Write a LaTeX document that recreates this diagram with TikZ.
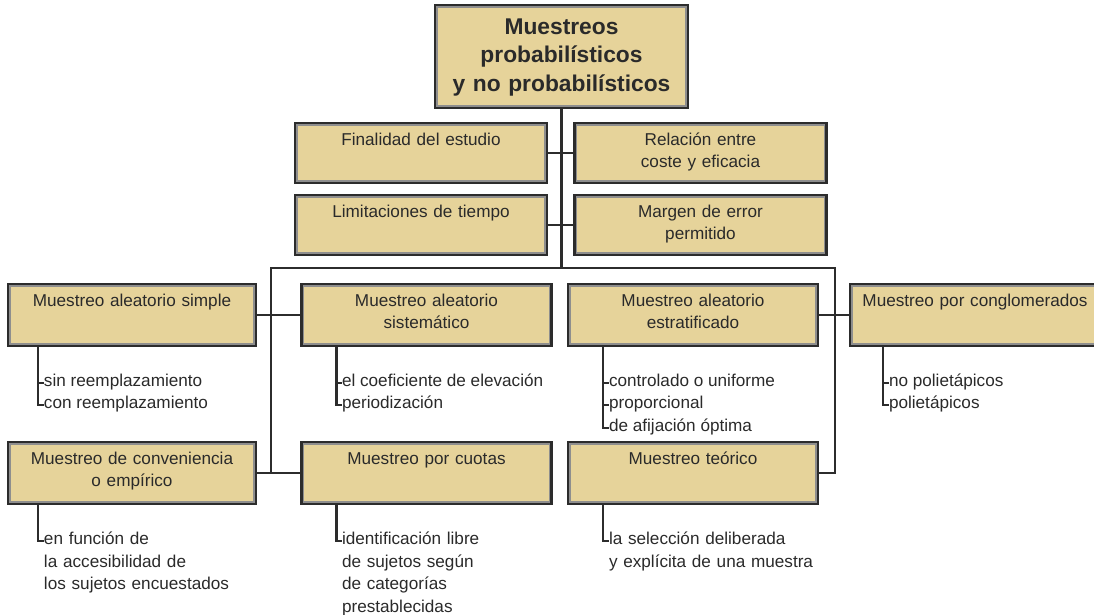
\documentclass[tikz,border=0pt]{standalone}
\usepackage{fontspec}
\setmainfont{Liberation Sans}

\definecolor{boxfill}{HTML}{E6D39A}
\definecolor{boxedge}{HTML}{2C2C2C}
\definecolor{boxbevel}{HTML}{8E8E8E}
\definecolor{inkgray}{HTML}{2A2A2A}

\begin{document}
\begin{tikzpicture}[
    x=0.025cm, y=-0.025cm,
    font=\fontsize{12.2}{16}\selectfont,
    text=inkgray,
    basebox/.style={draw=boxedge, fill=boxfill, line width=1.6pt, outer sep=0pt, anchor=north, align=center, inner xsep=1mm,
        path picture={\draw[boxbevel, line width=4.2pt] (path picture bounding box.south west) rectangle (path picture bounding box.north east);}},
    rootbox/.style={basebox, font=\fontsize{16.2}{20.5}\selectfont\bfseries, text width=6.125cm, text height=0.41cm, text depth=1.535cm, inner ysep=0.315cm},
    factorbox/.style={basebox, text width=6.1cm, text height=0.32cm, text depth=0.72cm, inner ysep=0.23cm},
    typebox/.style={basebox, text width=6.05cm, text height=0.32cm, text depth=0.77cm, inner ysep=0.23cm},
    item/.style={anchor=mid west, inner sep=0pt, outer sep=0pt},
    note/.style={item, text width=6cm, align=left},
    link/.style={draw=boxedge, line width=1.7pt}
]
    \useasboundingbox (0,0) rectangle (1094,615);

    % Nodo raiz y factores
    \node[rootbox] (raiz) at (561.5,5) {Muestreos\\probabilísticos\\y no probabilísticos};
    \node[factorbox] (finalidad) at (421,123) {Finalidad del estudio};
    \node[factorbox] (relacion) at (700.5,123) {Relación entre\\coste y eficacia};
    \node[factorbox] (limites) at (421,195) {Limitaciones de tiempo};
    \node[factorbox] (margen) at (700.5,195) {Margen de error\\permitido};

    % Tipos de muestreo
    \node[typebox, text width=6cm] (simple) at (132,284) {Muestreo aleatorio simple};
    \node[typebox] (sistem) at (426.5,284) {Muestreo aleatorio\\sistemático};
    \node[typebox] (estrat) at (693,284) {Muestreo aleatorio\\estratificado};
    \node[typebox] (conglo) at (975,284) {Muestreo por conglomerados};
    \node[typebox, text width=6cm] (conv) at (132,442) {Muestreo de conveniencia\\o empírico};
    \node[typebox] (cuotas) at (426.5,442) {Muestreo por cuotas};
    \node[typebox] (teorico) at (693,442) {Muestreo teórico};

    % Tronco
    \coordinate (hubL) at (271,268);
    \coordinate (hubR) at (835,268);
    \draw[link] (raiz.south) -- (raiz.south |- hubL);
    \draw[link] (finalidad.east) -- (relacion.west);
    \draw[link] (limites.east) -- (margen.west);
    \draw[link] (hubL |- conv.east) -- (hubL) -- (hubR) -- (hubR |- teorico.east) -- (teorico.east);
    \draw[link] (simple.east) -- (sistem.west);
    \draw[link] (conv.east) -- (cuotas.west);
    \draw[link] (estrat.east) -- (conglo.west);

    % Variantes
    \path (simple.south west) ++(30,0) coordinate (simpleL);
    \node[item] (sinr) at (44,383) {sin reemplazamiento};
    \node[item] (conr) at (44,405) {con reemplazamiento};
    \draw[link] (simpleL) |- (sinr.mid west);
    \draw[link] (simpleL) |- (conr.mid west);

    \path (sistem.south west) ++(35,0) coordinate (sistemL);
    \node[item] (coef) at (342,383) {el coeficiente de elevación};
    \node[item] (period) at (342,405) {periodización};
    \draw[link] (sistemL) |- (coef.mid west);
    \draw[link] (sistemL) |- (period.mid west);

    \path (estrat.south west) ++(35,0) coordinate (estratL);
    \node[item] (unif) at (609,383) {controlado o uniforme};
    \node[item] (prop) at (609,405) {proporcional};
    \node[item] (optima) at (609,428) {de afijación óptima};
    \draw[link] (estratL) |- (unif.mid west);
    \draw[link] (estratL) |- (prop.mid west);
    \draw[link] (estratL) |- (optima.mid west);

    \path (conglo.south west) ++(33,0) coordinate (congloL);
    \node[item] (nopoli) at (889,383) {no polietápicos};
    \node[item] (poli) at (889,405) {polietápicos};
    \draw[link] (congloL) |- (nopoli.mid west);
    \draw[link] (congloL) |- (poli.mid west);

    \path (conv.south west) ++(30,0) coordinate (convL);
    \node[note] (acceso) at (44,541) {en función de\\la accesibilidad de\\los sujetos encuestados};
    \draw[link] (convL) |- (acceso.mid west);

    \path (cuotas.south west) ++(35,0) coordinate (cuotasL);
    \node[note] (categ) at (342,541) {identificación libre\\de sujetos según\\de categorías\\prestablecidas};
    \draw[link] (cuotasL) |- (categ.mid west);

    \path (teorico.south west) ++(35,0) coordinate (teoricoL);
    \node[note] (selec) at (609,541) {la selección deliberada\\y explícita de una muestra};
    \draw[link] (teoricoL) |- (selec.mid west);

\end{tikzpicture}
\end{document}
